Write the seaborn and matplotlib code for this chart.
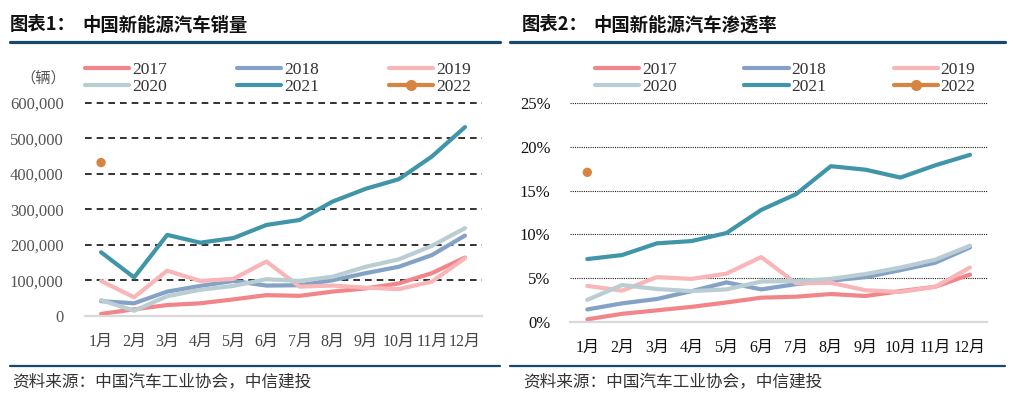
import matplotlib
matplotlib.use("Agg")
import matplotlib.pyplot as plt
from matplotlib.lines import Line2D
from matplotlib.ticker import FuncFormatter
import seaborn as sns
import pandas as pd

# ---------------- data ----------------
months = ['1月', '2月', '3月', '4月', '5月', '6月', '7月', '8月', '9月', '10月', '11月', '12月']
years = ['2017', '2018', '2019', '2020', '2021', '2022']

sales_2017 = [5000, 18000, 30000, 35000, 46000, 58000, 56000, 68000, 77000, 91000, 120000, 164000]
sales_2018 = [41000, 35000, 68000, 84000, 98000, 85000, 86000, 100000, 120000, 138000, 171000, 226000]
sales_2019 = [98000, 52000, 127000, 98000, 104000, 153000, 82000, 85000, 79000, 75000, 96000, 162000]
sales_2020 = [44000, 14000, 55000, 73000, 84000, 103000, 98000, 110000, 138000, 159000, 197000, 247000]
sales_2021 = [179000, 108000, 228000, 206000, 219000, 256000, 270000, 322000, 358000, 385000, 449000, 532000]
sales_2022 = [432000]

pen_2017 = [0.27, 0.9, 1.3, 1.7, 2.2, 2.75, 2.86, 3.17, 2.94, 3.5, 4.0, 5.4]
pen_2018 = [1.4, 2.1, 2.6, 3.5, 4.5, 3.7, 4.3, 4.7, 5.1, 5.9, 6.75, 8.5]
pen_2019 = [4.1, 3.55, 5.1, 4.9, 5.5, 7.4, 4.4, 4.45, 3.6, 3.4, 4.0, 6.2]
pen_2020 = [2.5, 4.2, 3.74, 3.5, 3.7, 4.6, 4.65, 4.9, 5.46, 6.2, 7.1, 8.7]
pen_2021 = [7.17, 7.63, 8.97, 9.23, 10.15, 12.8, 14.6, 17.8, 17.4, 16.5, 17.9, 19.1]
pen_2022 = [17.1]

sales_ticks = [0, 100000, 200000, 300000, 400000, 500000, 600000]
pen_ticks = [0, 5, 10, 15, 20, 25]

title1_a, title1_b = '图表1：', '中国新能源汽车销量'
title2_a, title2_b = '图表2：', '中国新能源汽车渗透率'
unit_label = '（辆）'
source = '资料来源：中国汽车工业协会，中信建投'

colors = {'2017': '#F2858A', '2018': '#84A2C5', '2019': '#F8B6B8',
          '2020': '#B9CDD3', '2021': '#4095A9', '2022': '#D6843F'}

# ---------------- style ----------------
sns.set_theme(style="white")
SERIF = ['Liberation Serif', 'Noto Sans CJK SC', 'DejaVu Sans']
CJK = ['Noto Sans CJK SC', 'DejaVu Sans']
plt.rcParams['font.family'] = SERIF

W, H = 1013, 403
fig = plt.figure(figsize=(W / 100, H / 100), dpi=100)
fig.patch.set_facecolor('white')


def fx(px):
    return px / W


def fy(py):
    return 1 - py / H


ax1 = fig.add_axes([fx(84.5), fy(315.7), fx(397), 212.7 / H])
ax2 = fig.add_axes([fx(569.9), fy(321.7), fx(417.5), 218.4 / H])


def long_df(series):
    rows = []
    for yr, vals in series.items():
        for i, v in enumerate(vals):
            rows.append({'idx': i, 'value': v, 'year': yr})
    return pd.DataFrame(rows)


df1 = long_df({'2017': sales_2017, '2018': sales_2018, '2019': sales_2019,
               '2020': sales_2020, '2021': sales_2021})
df2 = long_df({'2017': pen_2017, '2018': pen_2018, '2019': pen_2019,
               '2020': pen_2020, '2021': pen_2021})

pal = {k: colors[k] for k in years[:5]}

for ax, df, v22, ticks, dashes in [(ax1, df1, sales_2022, sales_ticks, (0, (4, 3))),
                                   (ax2, df2, pen_2022, pen_ticks, (0, (1, 1)))]:
    sns.lineplot(data=df, x='idx', y='value', hue='year', palette=pal, linewidth=3,
                 legend=False, ax=ax, sort=False, solid_capstyle='round',
                 solid_joinstyle='round')
    sns.scatterplot(x=list(range(len(v22))), y=v22, color=colors['2022'], s=45,
                    edgecolor='none', ax=ax, legend=False, zorder=5)
    ax.set_xlim(-0.5, len(months) - 0.5)
    ax.set_ylim(ticks[0], ticks[-1])
    ax.set_yticks(ticks)
    ax.set_xticks(range(len(months)))
    ax.set_xticklabels(months)
    ax.set_xlabel('')
    ax.set_ylabel('')
    ax.tick_params(axis='both', length=0)
    for s in ['top', 'left', 'right']:
        ax.spines[s].set_visible(False)
    ax.spines['bottom'].set_color('#D9D9D9')
    ax.spines['bottom'].set_linewidth(1.6)
    ax.set_facecolor('white')
    ax.set_axisbelow(True)
    if ax is ax1:
        ax.grid(axis='y', linestyle=dashes, color='#111111', linewidth=1.2)
    else:
        ax.grid(axis='y', linestyle=dashes, color='#222222', linewidth=0.8)
    ax.grid(axis='x', visible=False)
    gl = ax.yaxis.get_gridlines()
    gl[0].set_visible(False)
    for g in gl:
        g.set_clip_on(False)

ax1.yaxis.set_major_formatter(FuncFormatter(lambda v, p: f'{int(v):,}'))
ax2.yaxis.set_major_formatter(FuncFormatter(lambda v, p: f'{int(v)}%'))

ax1.tick_params(axis='y', labelsize=12, labelcolor='#555555', pad=15)
ax1.tick_params(axis='x', labelsize=11.5, labelcolor='#444444', pad=13)
ax2.tick_params(axis='y', labelsize=12, labelcolor='#111111', pad=14)
ax2.tick_params(axis='x', labelsize=11.5, labelcolor='#111111', pad=13)

fig.canvas.draw()
for ax in (ax1, ax2):
    for lab in ax.get_yticklabels():
        lab.set_fontfamily('Liberation Serif')
    for lab in ax.get_xticklabels():
        lab.set_fontfamily(SERIF)

# legends (row-wise order: matplotlib fills columns first)
handles = {}
for yr in years:
    if yr == '2022':
        handles[yr] = Line2D([], [], color=colors[yr], linewidth=3, marker='o',
                             markersize=7, solid_capstyle='round')
    else:
        handles[yr] = Line2D([], [], color=colors[yr], linewidth=3,
                             solid_capstyle='round')
ncol = 3
order = [years[r * ncol + c] for c in range(ncol) for r in range(2)]

for x0, colsp in [(85, 4.05), (595, 3.9)]:
    leg = fig.legend([handles[y] for y in order], order, ncol=ncol, loc='upper left',
                     bbox_to_anchor=(fx(x0), fy(61.5)), frameon=False,
                     borderpad=0, borderaxespad=0, handlelength=2.55,
                     handletextpad=0.15, columnspacing=colsp, labelspacing=0.05,
                     prop={'family': 'Liberation Serif', 'size': 12.5})
    for t in leg.get_texts():
        t.set_color('#333333')

# unit label
fig.text(fx(43), fy(78), unit_label, ha='center', va='center', fontsize=11,
         color='#555555', family=CJK)

# titles
for xa, xb, ta, tb in [(10, 82, title1_a, title1_b), (522, 593, title2_a, title2_b)]:
    fig.text(fx(xa), fy(25), ta, ha='left', va='center', fontsize=13.2,
             fontweight='bold', family=CJK, color='#111111')
    fig.text(fx(xb), fy(25), tb, ha='left', va='center', fontsize=13.2,
             fontweight='bold', family=CJK, color='#111111')

# rules and footer
line_col = '#17496F'
for x0, x1 in [(10, 500), (510, 1005)]:
    fig.add_artist(Line2D([fx(x0), fx(x1)], [fy(41.7), fy(41.7)], color=line_col,
                          linewidth=2.3, transform=fig.transFigure))
    fig.add_artist(Line2D([fx(x0), fx(x1)], [fy(365.7), fy(365.7)], color=line_col,
                          linewidth=1.6, transform=fig.transFigure))

for x0 in [12, 523]:
    fig.text(fx(x0), fy(383), source, ha='left', va='center', fontsize=12,
             color='#333333', family=CJK, style='italic')

fig.savefig('out.png', dpi=100, facecolor='white')
